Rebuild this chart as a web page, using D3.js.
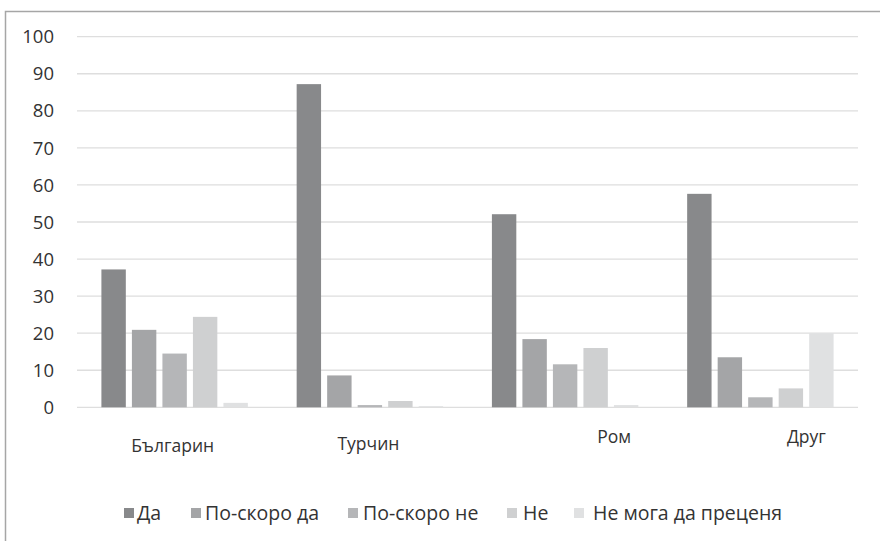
<!DOCTYPE html>
<html><head><meta charset="utf-8">
<script src="https://cdn.jsdelivr.net/npm/d3@7/dist/d3.min.js"></script>
<style>
html,body{margin:0;padding:0;background:#fff;}
svg text{font-family:"Open Sans",sans-serif;fill:#333;}
</style></head>
<body><svg id="c" width="880" height="541"></svg>
<script>
const categories = ["Българин", "Турчин", "Ром", "Друг"];
const seriesNames = ["Да", "По-скоро да", "По-скоро не", "Не", "Не мога да преценя"];
const da = [37.2, 87.2, 52.1, 57.6];
const poSkoroDa = [20.9, 8.6, 18.4, 13.5];
const poSkoroNe = [14.5, 0.6, 11.6, 2.7];
const ne = [24.4, 1.7, 16.0, 5.1];
const neMoga = [1.2, 0.3, 0.6, 20.0];
const yTicks = [0, 10, 20, 30, 40, 50, 60, 70, 80, 90, 100];
const seriesValues = [da, poSkoroDa, poSkoroNe, ne, neMoga];
const colors = ["#88898b", "#a4a5a7", "#b5b6b8", "#cfd0d1", "#e0e1e2"];

(function(){
const svg = d3.select("#c");
svg.append("path").attr("d","M5.5,541 L5.5,11.5 L880,11.5").attr("fill","none").attr("stroke","#a6a6a6").attr("stroke-width",1.5);

const pL = 77, pR = 858, pT = 36.7, pB = 407.3;
const y = d3.scaleLinear().domain([0,100]).range([pB, pT]);
const x0 = d3.scaleBand().domain(categories).range([pL, pR]).paddingInner(0.25).paddingOuter(0.125);
const x1 = d3.scaleBand().domain(seriesNames).range([0, x0.bandwidth()]).paddingInner(0.2);

svg.append("g").selectAll("line").data(yTicks).join("line")
  .attr("x1", pL).attr("x2", pR)
  .attr("y1", d=>y(d)).attr("y2", d=>y(d))
  .attr("stroke", "#dedede").attr("stroke-width", 1.3);

svg.append("g").selectAll("text").data(yTicks).join("text")
  .attr("x", 54).attr("y", d=>y(d)).attr("dy","0.36em")
  .attr("text-anchor","end").attr("font-size", 18.5).text(d=>d);

const g = svg.append("g");
seriesNames.forEach((s, si) => {
  g.selectAll("rect.s"+si).data(categories).join("rect")
    .attr("class","s"+si)
    .attr("x", c => x0(c) + x1(s))
    .attr("width", x1.bandwidth())
    .attr("y", (c,ci) => y(seriesValues[si][ci]))
    .attr("height", (c,ci) => pB - y(seriesValues[si][ci]))
    .attr("fill", colors[si]);
});

// category labels (offsets as in the original figure)
const labelShift = [-2, -1.5, 49, 46];
const labelY = [446, 444, 437, 437];
svg.append("g").selectAll("text").data(categories).join("text")
  .attr("x", (c,i) => x0(c) + x0.bandwidth()/2 + labelShift[i])
  .attr("y", (c,i) => labelY[i]).attr("dy","0.36em")
  .attr("text-anchor","middle").attr("font-size", 17.5).text(c=>c);

const legX = [124, 191, 348, 507, 574];
const legT = [137, 205, 363, 523, 593];
const leg = svg.append("g");
seriesNames.forEach((s, i) => {
  leg.append("rect").attr("x", legX[i]).attr("y", 508).attr("width", 10).attr("height", 10).attr("fill", colors[i]);
  leg.append("text").attr("x", legT[i]).attr("y", 513).attr("dy","0.36em").attr("font-size", 19.5).text(s);
});
})();
</script></body></html>
